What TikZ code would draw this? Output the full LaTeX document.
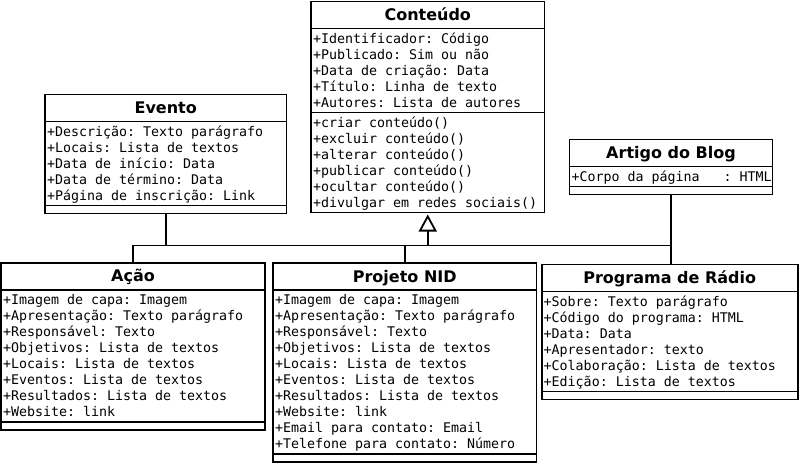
\documentclass[tikz,border=0pt]{standalone}
\usepackage{fontspec}
\setmainfont{DejaVu Sans}
\setmonofont{DejaVu Sans Mono}
\usetikzlibrary{arrows.meta,positioning}

\newcommand{\umlrow}{\rule[-3.5pt]{0pt}{16pt}}

\begin{document}
\begin{tikzpicture}[
  x=1pt, y=-1pt,
  node distance=0pt,
  umlname/.style={draw=black, line width=1.9pt, fill=white, outer sep=0pt, inner sep=0pt,
    anchor=north west, minimum width=#1, minimum height=27pt, text height=17pt, text depth=6pt,
    font=\bfseries\fontsize{16}{19}\selectfont},
  umlbody/.style={draw=black, line width=1.9pt, fill=white, outer sep=0pt, inner xsep=2pt, inner ysep=0pt,
    text width=#1, align=flush left, font=\ttfamily\fontsize{13.3}{16}\selectfont},
  umlempty/.style={draw=black, line width=1.9pt, fill=white, outer sep=0pt, inner sep=0pt,
    minimum width=#1, minimum height=8pt},
  assoc/.style={line width=1.5pt, draw=black},
  inherit/.style={-{Triangle[open,length=17pt,width=18pt]}, line width=1.8pt, draw=black}
]
\fill[white] (0,0) rectangle (799,464);
\useasboundingbox (0,0) rectangle (799,464);

% Conteudo
\node[umlname=233.5pt] (conteudo) at (311,1.5) {Conteúdo};
\node[umlbody=229.5pt, minimum height=84pt, below=of conteudo] (conteudoAttr) {\umlrow+Identificador: Código\\
  \umlrow+Publicado: Sim ou não\\
  \umlrow+Data de criação: Data\\
  \umlrow+Título: Linha de texto\\
  \umlrow+Autores: Lista de autores};
\node[umlbody=229.5pt, minimum height=100pt, below=of conteudoAttr] (conteudoOps) {\umlrow+criar conteúdo()\\
  \umlrow+excluir conteúdo()\\
  \umlrow+alterar conteúdo()\\
  \umlrow+publicar conteúdo()\\
  \umlrow+ocultar conteúdo()\\
  \umlrow+divulgar em redes sociais()};

% Evento
\node[umlname=241.5pt] (evento) at (45,94.5) {Evento};
\node[umlbody=237.5pt, minimum height=84pt, below=of evento] (eventoAttr) {\umlrow+Descrição: Texto parágrafo\\
  \umlrow+Locais: Lista de textos\\
  \umlrow+Data de início: Data\\
  \umlrow+Data de término: Data\\
  \umlrow+Página de inscrição: Link};
\node[umlempty=241.5pt, below=of eventoAttr] (eventoOps) {};

% Artigo do Blog
\node[umlname=203pt] (artigo) at (569.5,139.5) {Artigo do Blog};
\node[umlbody=199pt, minimum height=20pt, below=of artigo] (artigoAttr) {\umlrow\mbox{+Corpo da página\ \ \ : HTML}};
\node[umlempty=203pt, below=of artigoAttr] (artigoOps) {};

% Acao
\node[umlname=264pt] (acao) at (1,262.7) {Ação};
\node[umlbody=260pt, minimum height=132pt, below=of acao] (acaoAttr) {\umlrow+Imagem de capa: Imagem\\
  \umlrow+Apresentação: Texto parágrafo\\
  \umlrow+Responsável: Texto\\
  \umlrow+Objetivos: Lista de textos\\
  \umlrow+Locais: Lista de textos\\
  \umlrow+Eventos: Lista de textos\\
  \umlrow+Resultados: Lista de textos\\
  \umlrow+Website: link};
\node[umlempty=264pt, below=of acaoAttr] (acaoOps) {};

% Projeto NID
\node[umlname=263.5pt] (projeto) at (273,263) {Projeto NID};
\node[umlbody=259.5pt, minimum height=164pt, below=of projeto] (projetoAttr) {\umlrow+Imagem de capa: Imagem\\
  \umlrow+Apresentação: Texto parágrafo\\
  \umlrow+Responsável: Texto\\
  \umlrow+Objetivos: Lista de textos\\
  \umlrow+Locais: Lista de textos\\
  \umlrow+Eventos: Lista de textos\\
  \umlrow+Resultados: Lista de textos\\
  \umlrow+Website: link\\
  \umlrow+Email para contato: Email\\
  \umlrow+Telefone para contato: Número};
\node[umlempty=263.5pt, below=of projetoAttr] (projetoOps) {};

% Programa de Radio
\node[umlname=256pt] (programa) at (541.7,264.5) {Programa de Rádio};
\node[umlbody=252pt, minimum height=100pt, below=of programa] (programaAttr) {\umlrow+Sobre: Texto parágrafo\\
  \umlrow+Código do programa: HTML\\
  \umlrow+Data: Data\\
  \umlrow+Apresentador: texto\\
  \umlrow+Colaboração: Lista de textos\\
  \umlrow+Edição: Lista de textos};
\node[umlempty=256pt, below=of programaAttr] (programaOps) {};

% generalization tree
\coordinate (bus) at (0,245.5);
\draw[assoc] (acao.north) -- (acao.north |- bus) -- (artigoOps.south |- bus);
\draw[assoc] (eventoOps.south) -- (eventoOps.south |- bus);
\draw[assoc] (projeto.north) -- (projeto.north |- bus);
\draw[assoc] (artigoOps.south) -- (artigoOps.south |- programa.north);
\draw[inherit] (conteudoOps.south |- bus) -- ([yshift=-2pt]conteudoOps.south);
\end{tikzpicture}
\end{document}
